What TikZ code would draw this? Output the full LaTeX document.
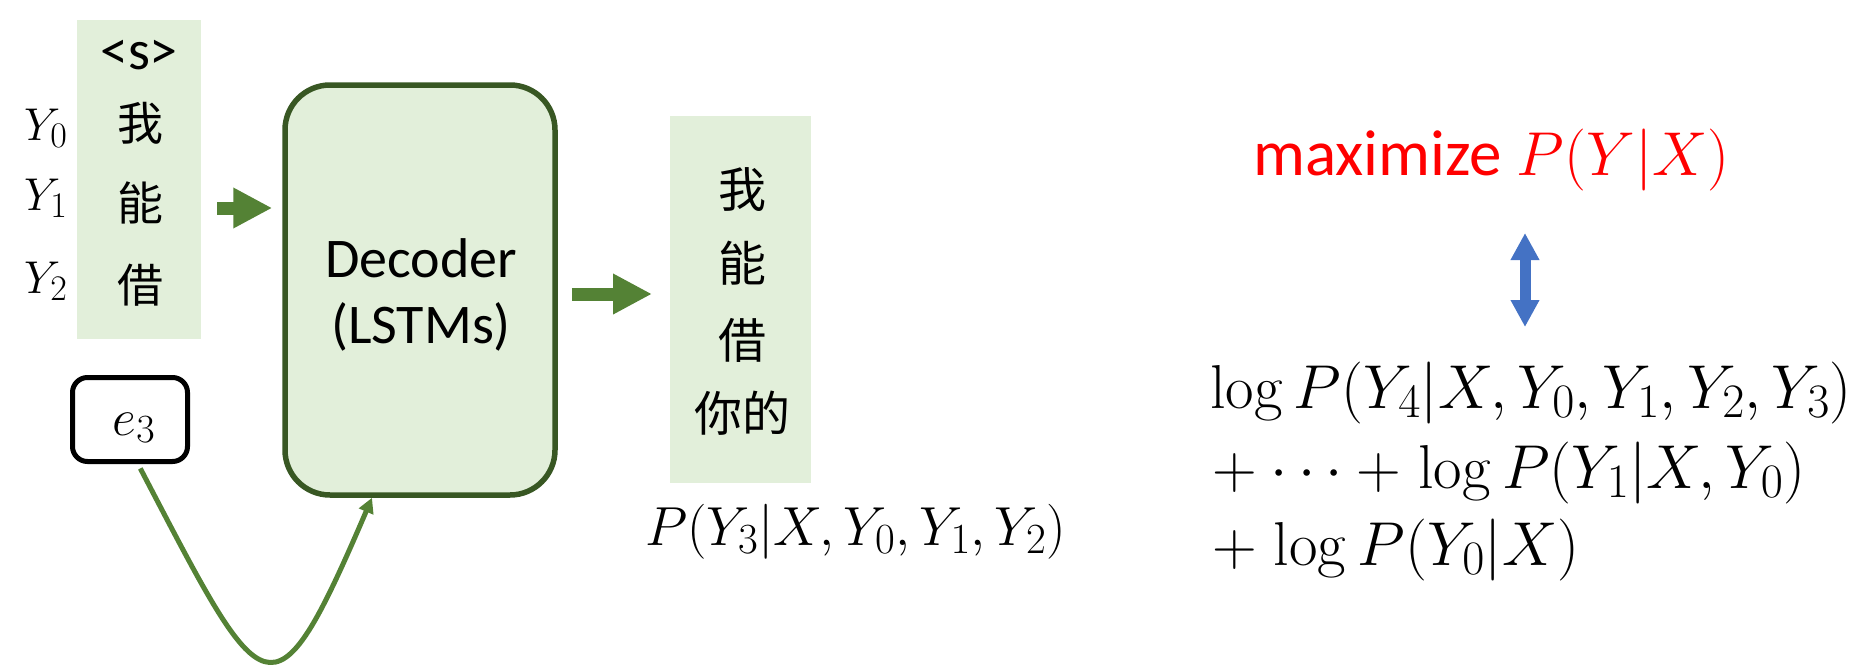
\RequirePackage{fix-cm}
\documentclass[tikz,border=0pt]{standalone}
\usepackage[no-math]{fontspec}
\setmainfont{Carlito}
\newfontfamily\cjk{Noto Sans CJK SC}
\usetikzlibrary{arrows.meta}
\definecolor{boxfill}{HTML}{E2EFDA}
\definecolor{decgreen}{HTML}{385723}
\definecolor{arrowgreen}{HTML}{548235}
\definecolor{arrowblue}{HTML}{4472C4}
\definecolor{maxred}{HTML}{FF0000}
\DeclareMathSizes{46}{46}{36}{28}
\DeclareMathSizes{52}{52}{40}{32}
\DeclareMathSizes{55}{55}{43}{34}
\DeclareMathSizes{62}{62}{48}{38}
\newcommand\fsz[1]{\fontsize{#1}{#1}\selectfont}
\begin{document}
\begin{tikzpicture}[x=1pt,y=-1pt,
  greenbox/.style={fill=boxfill, draw=none, inner sep=0pt, outer sep=0pt},
  chr/.style={inner sep=0pt, font=\cjk\fsz{46}},
  ochr/.style={inner sep=0pt, font=\cjk\fsz{48}},
  lbl/.style={inner sep=0pt, anchor=base west, font=\fsz{46}},
  txt/.style={inner sep=0pt, anchor=base},
  mathline/.style={inner sep=0pt, anchor=base west, font=\fsz{62}},
  blockarrow/.style={draw=arrowgreen, line width=13pt, -{Triangle[length=39pt,width=38pt]}},
  dblarrow/.style={draw=arrowblue, line width=11pt, {Triangle[length=27pt,width=27pt]}-{Triangle[length=27pt,width=27pt]}},
  curvearrow/.style={draw=arrowgreen, line width=5pt, -{Triangle[length=15pt,width=15pt]}}
]
\useasboundingbox (0,0) rectangle (1863,664);

% input column
\node[greenbox, minimum width=124pt, minimum height=319pt] (inbox) at (139,179.5) {};
\node[inner sep=0pt, font=\fsz{56}] (s) at (139,55) {<s>};
\node[chr] (c1) at (140,123) {我};
\node[chr] (c2) at (140,203) {能};
\node[chr] (c3) at (140,285) {借};
\node[lbl] (y0) at (24,140) {$Y_0$};
\node[lbl] (y1) at (24,210) {$Y_1$};
\node[lbl] (y2) at (24,293) {$Y_2$};

% decoder
\node[draw=decgreen, line width=5.5pt, fill=boxfill, rounded corners=45pt,
      minimum width=270pt, minimum height=410pt, inner sep=0pt] (dec) at (420,290) {};
\node[txt, font=\fsz{56}] (dec1) at (421,277) {Decoder};
\node[txt, font=\fsz{56}] (dec2) at (421,343) {(LSTMs)};

% output column
\node[greenbox, minimum width=141pt, minimum height=367pt] (outbox) at (740.5,299.5) {};
\node[ochr] (o1) at (742,190) {我};
\node[ochr] (o2) at (742,263) {能};
\node[ochr] (o3) at (742,340) {借};
\node[ochr] (o4) at (742,413) {你的};
\node[inner sep=0pt, anchor=base west, font=\fsz{55}] (p3) at (645,545) {$P(Y_3|X,Y_0,Y_1,Y_2)$};

% e3
\node[draw=black, line width=5pt, rounded corners=15pt, minimum width=115pt,
      minimum height=84pt, inner sep=0pt] (e3) at (130,419.5) {};
\node[txt, font=\fsz{52}] (e3t) at (134,435) {$e_3$};

% arrows
\coordinate (a1) at (0,208);
\coordinate (a2) at (0,294);
\draw[blockarrow, shorten <=16pt, shorten >=10pt] (inbox.east |- a1) -- (dec.west |- a1);
\draw[blockarrow, shorten <=14pt, shorten >=18pt] (dec.east |- a2) -- (outbox.west |- a2);
\draw[curvearrow, shorten <=5pt] ([xshift=8pt]e3.south) .. controls (265,707) and (272,731) .. ([xshift=-48pt]dec.south);

% right side
\node[inner sep=0pt, anchor=base west, text=maxred, font=\fsz{65}] (maxi) at (1253,175) {maximize {\fsz{62}$P(Y|X)$}};
\coordinate (d1) at (1525,233);
\coordinate (d2) at (1525,327);
\draw[dblarrow] (d1) -- (d2);
\node[mathline] (l1) at (1210,408) {$\log P(Y_4|X,Y_0,Y_1,Y_2,Y_3)$};
\node[mathline] (l2) at (1212,488) {$\mathord{+}\mkern4mu\mathord{\cdots}\mkern4mu\mathord{+}\mkern2mu\log P(Y_1|X,Y_0)$};
\node[mathline] (l3) at (1212,565) {$\mathord{+}\mkern2mu\log P(Y_0|X)$};
\end{tikzpicture}
\end{document}
